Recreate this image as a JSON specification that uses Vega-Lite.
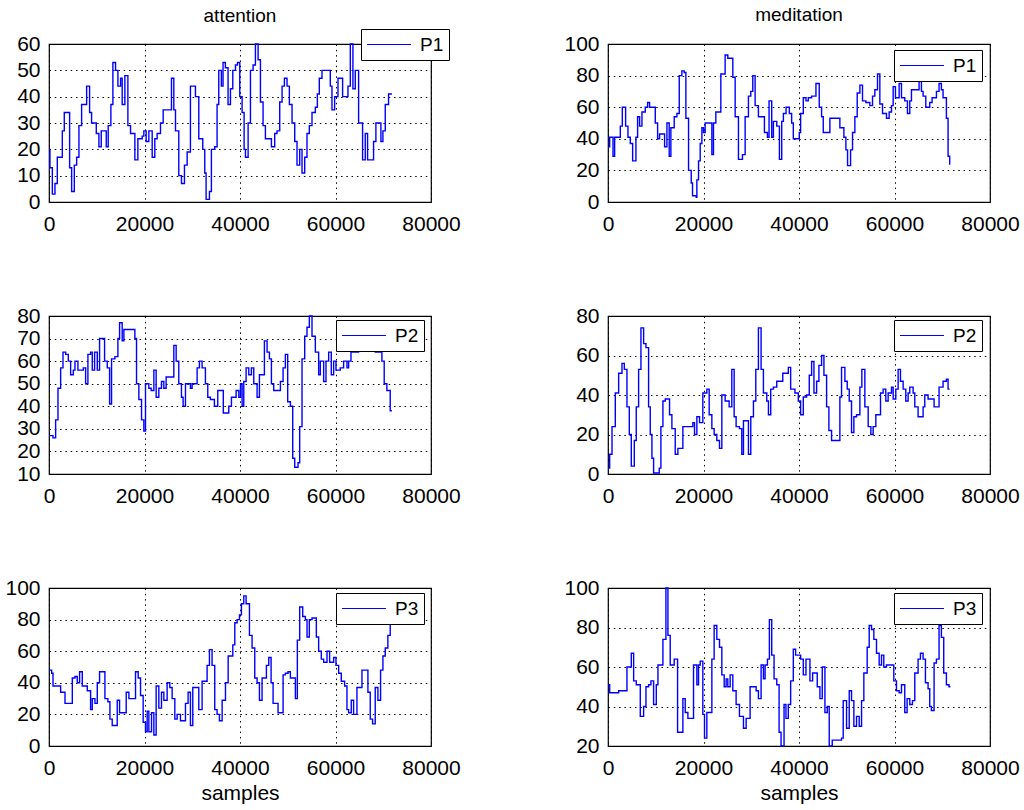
{
"$schema": "https://vega.github.io/schema/vega-lite/v6.json",
"padding": {"left": 4, "top": 5, "right": 5, "bottom": 2},
"background": "white",
"datasets": {
"a1": [{"s":0,"v":20},{"s":200,"v":13},{"s":700,"v":3},{"s":1250,"v":7},{"s":1740,"v":17},{"s":2790,"v":27},{"s":3200,"v":34},{"s":4320,"v":13},{"s":4740,"v":4},{"s":5300,"v":14},{"s":5790,"v":17},{"s":6270,"v":29},{"s":6830,"v":37},{"s":7880,"v":44},{"s":8500,"v":34},{"s":8920,"v":30},{"s":9900,"v":26},{"s":10450,"v":21},{"s":10940,"v":27},{"s":11990,"v":21},{"s":12400,"v":29},{"s":12960,"v":37},{"s":13380,"v":53},{"s":13940,"v":50},{"s":14430,"v":44},{"s":14990,"v":47},{"s":15330,"v":37},{"s":15890,"v":48},{"s":16520,"v":29},{"s":17080,"v":26},{"s":17980,"v":16},{"s":18610,"v":24},{"s":19520,"v":25},{"s":19860,"v":27},{"s":20350,"v":23},{"s":20910,"v":27},{"s":21610,"v":17},{"s":22160,"v":24},{"s":22650,"v":26},{"s":23350,"v":30},{"s":23910,"v":35},{"s":25650,"v":47},{"s":26140,"v":35},{"s":26490,"v":27},{"s":27180,"v":10},{"s":27740,"v":7},{"s":28370,"v":14},{"s":28930,"v":19},{"s":29620,"v":44},{"s":30670,"v":40},{"s":31370,"v":24},{"s":32200,"v":20},{"s":32620,"v":11},{"s":32900,"v":1},{"s":33600,"v":4},{"s":34010,"v":20},{"s":34710,"v":21},{"s":35200,"v":37},{"s":35550,"v":50},{"s":36100,"v":44},{"s":36450,"v":53},{"s":36940,"v":51},{"s":37500,"v":37},{"s":38000,"v":43},{"s":38490,"v":50},{"s":39050,"v":52},{"s":39470,"v":53},{"s":39950,"v":40},{"s":40440,"v":34},{"s":40860,"v":20},{"s":41140,"v":17},{"s":41700,"v":30},{"s":42190,"v":50},{"s":42740,"v":52},{"s":43230,"v":60},{"s":43790,"v":54},{"s":44280,"v":38},{"s":44830,"v":29},{"s":45320,"v":24},{"s":46580,"v":21},{"s":47270,"v":26},{"s":47760,"v":27},{"s":48320,"v":38},{"s":48810,"v":44},{"s":49300,"v":47},{"s":49850,"v":44},{"s":50340,"v":37},{"s":50900,"v":30},{"s":51460,"v":23},{"s":51940,"v":14},{"s":52500,"v":20},{"s":52990,"v":11},{"s":53550,"v":17},{"s":54030,"v":26},{"s":54520,"v":29},{"s":55080,"v":34},{"s":55780,"v":36},{"s":56200,"v":41},{"s":56610,"v":47},{"s":57170,"v":50},{"s":58910,"v":44},{"s":59260,"v":35},{"s":59820,"v":40},{"s":60520,"v":47},{"s":61490,"v":40},{"s":62610,"v":44},{"s":63100,"v":60},{"s":63650,"v":43},{"s":64140,"v":50},{"s":64840,"v":30},{"s":65670,"v":16},{"s":66230,"v":26},{"s":66720,"v":16},{"s":67970,"v":23},{"s":68460,"v":30},{"s":69510,"v":23},{"s":69930,"v":27},{"s":70420,"v":37},{"s":71110,"v":41},{"s":71810,"v":41}],
"m1": [{"s":0,"v":35},{"s":350,"v":41},{"s":1050,"v":29},{"s":1390,"v":41},{"s":2580,"v":48},{"s":3000,"v":60},{"s":3690,"v":48},{"s":4180,"v":41},{"s":4670,"v":37},{"s":5160,"v":26},{"s":5850,"v":41},{"s":6200,"v":54},{"s":6620,"v":48},{"s":7110,"v":57},{"s":7810,"v":60},{"s":8290,"v":63},{"s":8710,"v":60},{"s":9900,"v":50},{"s":10390,"v":40},{"s":10800,"v":43},{"s":11850,"v":35},{"s":12340,"v":50},{"s":12820,"v":29},{"s":13170,"v":47},{"s":13870,"v":54},{"s":14430,"v":56},{"s":14920,"v":80},{"s":15470,"v":83},{"s":15960,"v":82},{"s":16310,"v":53},{"s":16870,"v":20},{"s":17430,"v":12},{"s":17700,"v":4},{"s":18470,"v":3},{"s":18610,"v":14},{"s":18960,"v":26},{"s":19310,"v":37},{"s":19660,"v":47},{"s":20000,"v":44},{"s":20350,"v":50},{"s":21750,"v":30},{"s":22090,"v":50},{"s":22580,"v":57},{"s":23630,"v":81},{"s":24530,"v":93},{"s":25090,"v":91},{"s":26140,"v":79},{"s":26630,"v":54},{"s":27320,"v":27},{"s":28160,"v":30},{"s":28720,"v":54},{"s":29410,"v":67},{"s":29900,"v":70},{"s":30320,"v":80},{"s":30810,"v":61},{"s":31500,"v":54},{"s":32760,"v":44},{"s":33390,"v":41},{"s":33730,"v":64},{"s":34290,"v":41},{"s":34640,"v":51},{"s":35340,"v":48},{"s":35900,"v":27},{"s":36380,"v":51},{"s":36730,"v":56},{"s":37290,"v":60},{"s":37970,"v":56},{"s":38460,"v":50},{"s":38810,"v":40},{"s":40060,"v":44},{"s":40340,"v":56},{"s":40900,"v":66},{"s":41460,"v":64},{"s":41940,"v":66},{"s":42640,"v":67},{"s":43550,"v":75},{"s":44240,"v":60},{"s":44730,"v":54},{"s":45080,"v":44},{"s":46470,"v":53},{"s":48560,"v":47},{"s":49400,"v":41},{"s":49820,"v":33},{"s":50170,"v":23},{"s":50800,"v":33},{"s":51210,"v":44},{"s":51700,"v":54},{"s":52190,"v":69},{"s":52750,"v":74},{"s":53300,"v":64},{"s":54000,"v":63},{"s":54840,"v":61},{"s":55400,"v":67},{"s":55880,"v":71},{"s":56440,"v":81},{"s":56930,"v":62},{"s":57490,"v":56},{"s":58320,"v":53},{"s":58880,"v":57},{"s":59370,"v":61},{"s":59720,"v":73},{"s":60200,"v":66},{"s":60970,"v":75},{"s":61460,"v":66},{"s":62150,"v":64},{"s":62710,"v":56},{"s":63200,"v":64},{"s":63550,"v":71},{"s":65150,"v":78},{"s":65640,"v":70},{"s":65990,"v":67},{"s":66550,"v":60},{"s":67380,"v":63},{"s":67870,"v":66},{"s":68780,"v":70},{"s":69330,"v":75},{"s":69820,"v":71},{"s":70170,"v":66},{"s":70870,"v":53},{"s":71220,"v":29},{"s":71560,"v":24},{"s":71700,"v":24}],
"a2": [{"s":0,"v":27},{"s":840,"v":26},{"s":1390,"v":34},{"s":1880,"v":48},{"s":2440,"v":57},{"s":2930,"v":64},{"s":3490,"v":63},{"s":4040,"v":60},{"s":4530,"v":54},{"s":5090,"v":56},{"s":5440,"v":60},{"s":6060,"v":56},{"s":7180,"v":57},{"s":7670,"v":50},{"s":8150,"v":63},{"s":8710,"v":64},{"s":9060,"v":56},{"s":9550,"v":64},{"s":10110,"v":56},{"s":10590,"v":70},{"s":11640,"v":60},{"s":12200,"v":57},{"s":12690,"v":41},{"s":13100,"v":61},{"s":13800,"v":62},{"s":14430,"v":70},{"s":14780,"v":77},{"s":15330,"v":69},{"s":15680,"v":74},{"s":17980,"v":70},{"s":18330,"v":50},{"s":18820,"v":43},{"s":19380,"v":34},{"s":19860,"v":29},{"s":20210,"v":50},{"s":20910,"v":48},{"s":21400,"v":47},{"s":21960,"v":56},{"s":22440,"v":44},{"s":23000,"v":48},{"s":23560,"v":51},{"s":24050,"v":48},{"s":24530,"v":53},{"s":26140,"v":67},{"s":26630,"v":60},{"s":27180,"v":50},{"s":27740,"v":44},{"s":28090,"v":40},{"s":28580,"v":50},{"s":29620,"v":48},{"s":29970,"v":50},{"s":31020,"v":57},{"s":31500,"v":60},{"s":32060,"v":57},{"s":32760,"v":50},{"s":33250,"v":44},{"s":33800,"v":43},{"s":34640,"v":40},{"s":35340,"v":47},{"s":36500,"v":37},{"s":37650,"v":40},{"s":38210,"v":44},{"s":39190,"v":47},{"s":39750,"v":44},{"s":40100,"v":50},{"s":40440,"v":40},{"s":40790,"v":51},{"s":41280,"v":57},{"s":41840,"v":54},{"s":42390,"v":57},{"s":42880,"v":50},{"s":43580,"v":44},{"s":44070,"v":54},{"s":45110,"v":69},{"s":45670,"v":64},{"s":46160,"v":61},{"s":46580,"v":50},{"s":47060,"v":47},{"s":48460,"v":51},{"s":49020,"v":57},{"s":49500,"v":63},{"s":49990,"v":42},{"s":50550,"v":40},{"s":51040,"v":17},{"s":51460,"v":13},{"s":52150,"v":15},{"s":52500,"v":31},{"s":52990,"v":61},{"s":53550,"v":71},{"s":54030,"v":75},{"s":54520,"v":80},{"s":55080,"v":71},{"s":55780,"v":64},{"s":56470,"v":54},{"s":56820,"v":60},{"s":57520,"v":51},{"s":58010,"v":60},{"s":58570,"v":64},{"s":59120,"v":54},{"s":59610,"v":60},{"s":60100,"v":56},{"s":61000,"v":57},{"s":61700,"v":60},{"s":62400,"v":57},{"s":62750,"v":60},{"s":63240,"v":64},{"s":64840,"v":67},{"s":66580,"v":66},{"s":68320,"v":64},{"s":69720,"v":60},{"s":70200,"v":50},{"s":70760,"v":47},{"s":71460,"v":38},{"s":71810,"v":38}],
"m2": [{"s":0,"v":3},{"s":350,"v":10},{"s":840,"v":24},{"s":1530,"v":41},{"s":2230,"v":51},{"s":2930,"v":56},{"s":3420,"v":53},{"s":3970,"v":34},{"s":4460,"v":20},{"s":4880,"v":4},{"s":5510,"v":17},{"s":5920,"v":34},{"s":6410,"v":53},{"s":6900,"v":74},{"s":7460,"v":66},{"s":7950,"v":64},{"s":8500,"v":34},{"s":8850,"v":20},{"s":9200,"v":8},{"s":9550,"v":0.5},{"s":10730,"v":3},{"s":11080,"v":24},{"s":11500,"v":37},{"s":11990,"v":38},{"s":12890,"v":30},{"s":13380,"v":23},{"s":14080,"v":10},{"s":14640,"v":13},{"s":15680,"v":24},{"s":17770,"v":26},{"s":18120,"v":20},{"s":18610,"v":29},{"s":19170,"v":26},{"s":19860,"v":41},{"s":20700,"v":43},{"s":21190,"v":30},{"s":21750,"v":23},{"s":22230,"v":20},{"s":22790,"v":17},{"s":23350,"v":13},{"s":23840,"v":40},{"s":24530,"v":37},{"s":25370,"v":34},{"s":25930,"v":53},{"s":26420,"v":29},{"s":26830,"v":24},{"s":27530,"v":23},{"s":28020,"v":10},{"s":28370,"v":27},{"s":29410,"v":10},{"s":29900,"v":29},{"s":30460,"v":37},{"s":30950,"v":53},{"s":31500,"v":74},{"s":32060,"v":53},{"s":32550,"v":41},{"s":33250,"v":37},{"s":33600,"v":30},{"s":34080,"v":43},{"s":34640,"v":44},{"s":35340,"v":47},{"s":36600,"v":51},{"s":37760,"v":54},{"s":38250,"v":43},{"s":39150,"v":41},{"s":39850,"v":37},{"s":40340,"v":30},{"s":40900,"v":39},{"s":41600,"v":40},{"s":42150,"v":50},{"s":42640,"v":57},{"s":43130,"v":41},{"s":43690,"v":47},{"s":44170,"v":55},{"s":44730,"v":60},{"s":45220,"v":50},{"s":45780,"v":34},{"s":46260,"v":22},{"s":46820,"v":17},{"s":48560,"v":39},{"s":48910,"v":54},{"s":49610,"v":47},{"s":50100,"v":43},{"s":50520,"v":37},{"s":51000,"v":21},{"s":51490,"v":29},{"s":52050,"v":30},{"s":52750,"v":44},{"s":53160,"v":53},{"s":53790,"v":34},{"s":54490,"v":24},{"s":55050,"v":20},{"s":55530,"v":24},{"s":56090,"v":30},{"s":57070,"v":41},{"s":57620,"v":43},{"s":58180,"v":37},{"s":58670,"v":41},{"s":59370,"v":44},{"s":59720,"v":38},{"s":60270,"v":43},{"s":60760,"v":53},{"s":61250,"v":47},{"s":61810,"v":43},{"s":62360,"v":37},{"s":62850,"v":41},{"s":63200,"v":44},{"s":63900,"v":41},{"s":64250,"v":34},{"s":64940,"v":29},{"s":65990,"v":34},{"s":66340,"v":40},{"s":67030,"v":38},{"s":68290,"v":34},{"s":69330,"v":44},{"s":70170,"v":47},{"s":70870,"v":48},{"s":71220,"v":43},{"s":71560,"v":43}],
"a3": [{"s":0,"v":48},{"s":560,"v":46},{"s":840,"v":38},{"s":2440,"v":34},{"s":3350,"v":27},{"s":4880,"v":43},{"s":5440,"v":44},{"s":5920,"v":40},{"s":6410,"v":47},{"s":6970,"v":38},{"s":8020,"v":35},{"s":8710,"v":23},{"s":9060,"v":30},{"s":9620,"v":27},{"s":10110,"v":40},{"s":10590,"v":47},{"s":11710,"v":30},{"s":12340,"v":28},{"s":12760,"v":17},{"s":13240,"v":13},{"s":14290,"v":29},{"s":14780,"v":21},{"s":16170,"v":34},{"s":16730,"v":30},{"s":18120,"v":47},{"s":18680,"v":43},{"s":19170,"v":32},{"s":19720,"v":15},{"s":20210,"v":9},{"s":20560,"v":22},{"s":20910,"v":9},{"s":21470,"v":21},{"s":21960,"v":7},{"s":22440,"v":38},{"s":23000,"v":24},{"s":23560,"v":34},{"s":24050,"v":29},{"s":24740,"v":40},{"s":25300,"v":37},{"s":25790,"v":30},{"s":26350,"v":17},{"s":26840,"v":20},{"s":27530,"v":16},{"s":28580,"v":27},{"s":29130,"v":34},{"s":29620,"v":13},{"s":30110,"v":37},{"s":31370,"v":23},{"s":32060,"v":41},{"s":33110,"v":51},{"s":33600,"v":61},{"s":34150,"v":51},{"s":34710,"v":23},{"s":35200,"v":20},{"s":35690,"v":16},{"s":36260,"v":29},{"s":36960,"v":40},{"s":37520,"v":57},{"s":38490,"v":64},{"s":38910,"v":78},{"s":39400,"v":80},{"s":39890,"v":83},{"s":40300,"v":90},{"s":40790,"v":95},{"s":41280,"v":90},{"s":41980,"v":70},{"s":42530,"v":62},{"s":43090,"v":43},{"s":43580,"v":40},{"s":44070,"v":29},{"s":44620,"v":43},{"s":45530,"v":51},{"s":46020,"v":56},{"s":46510,"v":40},{"s":46930,"v":27},{"s":47970,"v":21},{"s":49020,"v":45},{"s":49500,"v":46},{"s":50060,"v":47},{"s":50550,"v":43},{"s":51600,"v":30},{"s":52010,"v":67},{"s":52500,"v":88},{"s":53130,"v":82},{"s":53690,"v":80},{"s":54040,"v":69},{"s":54520,"v":80},{"s":55080,"v":81},{"s":55990,"v":69},{"s":56470,"v":60},{"s":57030,"v":55},{"s":57520,"v":53},{"s":58220,"v":60},{"s":58770,"v":53},{"s":59610,"v":56},{"s":60100,"v":51},{"s":60660,"v":46},{"s":61210,"v":41},{"s":61910,"v":38},{"s":62400,"v":23},{"s":62750,"v":21},{"s":63300,"v":29},{"s":63790,"v":20},{"s":64490,"v":37},{"s":65540,"v":48},{"s":66790,"v":34},{"s":67280,"v":17},{"s":67770,"v":14},{"s":68320,"v":37},{"s":68880,"v":29},{"s":69440,"v":48},{"s":69930,"v":57},{"s":70420,"v":62},{"s":70970,"v":70},{"s":71460,"v":77},{"s":71810,"v":77}],
"m3": [{"s":0,"v":51},{"s":350,"v":47},{"s":2230,"v":48},{"s":3970,"v":60},{"s":4880,"v":67},{"s":5370,"v":53},{"s":5920,"v":51},{"s":6760,"v":35},{"s":7460,"v":40},{"s":7950,"v":50},{"s":8500,"v":51},{"s":8990,"v":53},{"s":9550,"v":41},{"s":10110,"v":51},{"s":10460,"v":61},{"s":11500,"v":74},{"s":12130,"v":100},{"s":12550,"v":76},{"s":13030,"v":61},{"s":13870,"v":64},{"s":14570,"v":27},{"s":15680,"v":44},{"s":16170,"v":37},{"s":16730,"v":34},{"s":17910,"v":61},{"s":18610,"v":51},{"s":18960,"v":61},{"s":19310,"v":63},{"s":19860,"v":36},{"s":20210,"v":24},{"s":20700,"v":37},{"s":21750,"v":64},{"s":22230,"v":81},{"s":22790,"v":74},{"s":23350,"v":70},{"s":23840,"v":56},{"s":24330,"v":50},{"s":24740,"v":54},{"s":25090,"v":50},{"s":25580,"v":56},{"s":26140,"v":48},{"s":26830,"v":41},{"s":27530,"v":35},{"s":28370,"v":29},{"s":28930,"v":34},{"s":29760,"v":50},{"s":31020,"v":48},{"s":31500,"v":44},{"s":32060,"v":61},{"s":32550,"v":54},{"s":32900,"v":61},{"s":33390,"v":64},{"s":33800,"v":84},{"s":34290,"v":66},{"s":34780,"v":54},{"s":35340,"v":51},{"s":35830,"v":27},{"s":36240,"v":20},{"s":36870,"v":41},{"s":37270,"v":34},{"s":37760,"v":41},{"s":38250,"v":53},{"s":38810,"v":69},{"s":39290,"v":66},{"s":40340,"v":64},{"s":40900,"v":56},{"s":41460,"v":64},{"s":42290,"v":53},{"s":42850,"v":57},{"s":43820,"v":50},{"s":44380,"v":44},{"s":44870,"v":60},{"s":45430,"v":37},{"s":45920,"v":40},{"s":46330,"v":20},{"s":46960,"v":23},{"s":48910,"v":24},{"s":49260,"v":43},{"s":49960,"v":29},{"s":50520,"v":48},{"s":51000,"v":43},{"s":51490,"v":30},{"s":52050,"v":35},{"s":52610,"v":30},{"s":53100,"v":43},{"s":53580,"v":57},{"s":54280,"v":70},{"s":54700,"v":81},{"s":55190,"v":79},{"s":55670,"v":74},{"s":56230,"v":67},{"s":56790,"v":61},{"s":57280,"v":66},{"s":57760,"v":60},{"s":58320,"v":61},{"s":59850,"v":53},{"s":60410,"v":48},{"s":60970,"v":47},{"s":61460,"v":51},{"s":62150,"v":37},{"s":62640,"v":44},{"s":63200,"v":41},{"s":63760,"v":43},{"s":64250,"v":57},{"s":64940,"v":64},{"s":65430,"v":67},{"s":65990,"v":64},{"s":66480,"v":52},{"s":67030,"v":49},{"s":67380,"v":40},{"s":67730,"v":38},{"s":68290,"v":62},{"s":68780,"v":64},{"s":69330,"v":81},{"s":69820,"v":75},{"s":70310,"v":57},{"s":70870,"v":51},{"s":71420,"v":50},{"s":71700,"v":50}]
},
"columns": 2,
"spacing": {"row": 114, "column": 177},
"bounds": "flush",
"resolve": {"scale": {"color": "independent", "x": "independent", "y": "independent"}, "legend": {"color": "independent"}},
"concat": [
{"width": 382, "height": 158, "title": {"text": "attention", "offset": 3}, "data": {"name": "a1"},
 "mark": {"type": "line", "interpolate": "step-after", "strokeWidth": 1.4},
 "encoding": {
  "x": {"field": "s", "type": "quantitative", "scale": {"domain": [0, 80000], "nice": false}, "axis": {"values": [0, 20000, 40000, 60000, 80000], "format": "d", "title": null}},
  "y": {"field": "v", "type": "quantitative", "scale": {"domain": [0, 60], "nice": false, "zero": false}, "axis": {"values": [0, 10, 20, 30, 40, 50, 60], "title": null}},
  "color": {"datum": "P1", "type": "nominal", "scale": {"range": ["#0000ff"]}, "legend": {"orient": "none", "legendX": 312, "legendY": -15, "title": null}}}},
{"width": 382, "height": 158, "title": {"text": "meditation", "offset": 8}, "data": {"name": "m1"},
 "mark": {"type": "line", "interpolate": "step-after", "strokeWidth": 1.4},
 "encoding": {
  "x": {"field": "s", "type": "quantitative", "scale": {"domain": [0, 80000], "nice": false}, "axis": {"values": [0, 20000, 40000, 60000, 80000], "format": "d", "title": null}},
  "y": {"field": "v", "type": "quantitative", "scale": {"domain": [0, 100], "nice": false, "zero": false}, "axis": {"values": [0, 20, 40, 60, 80, 100], "title": null}},
  "color": {"datum": "P1", "type": "nominal", "scale": {"range": ["#0000ff"]}, "legend": {"orient": "none", "legendX": 286, "legendY": 6, "title": null}}}},
{"width": 382, "height": 158, "data": {"name": "a2"},
 "mark": {"type": "line", "interpolate": "step-after", "strokeWidth": 1.4},
 "encoding": {
  "x": {"field": "s", "type": "quantitative", "scale": {"domain": [0, 80000], "nice": false}, "axis": {"values": [0, 20000, 40000, 60000, 80000], "format": "d", "title": null}},
  "y": {"field": "v", "type": "quantitative", "scale": {"domain": [10, 80], "nice": false, "zero": false}, "axis": {"values": [10, 20, 30, 40, 50, 60, 70, 80], "title": null}},
  "color": {"datum": "P2", "type": "nominal", "scale": {"range": ["#0000ff"]}, "legend": {"orient": "none", "legendX": 287, "legendY": 4, "title": null}}}},
{"width": 382, "height": 158, "data": {"name": "m2"},
 "mark": {"type": "line", "interpolate": "step-after", "strokeWidth": 1.4},
 "encoding": {
  "x": {"field": "s", "type": "quantitative", "scale": {"domain": [0, 80000], "nice": false}, "axis": {"values": [0, 20000, 40000, 60000, 80000], "format": "d", "title": null}},
  "y": {"field": "v", "type": "quantitative", "scale": {"domain": [0, 80], "nice": false, "zero": false}, "axis": {"values": [0, 20, 40, 60, 80], "title": null}},
  "color": {"datum": "P2", "type": "nominal", "scale": {"range": ["#0000ff"]}, "legend": {"orient": "none", "legendX": 286, "legendY": 4, "title": null}}}},
{"width": 382, "height": 158, "data": {"name": "a3"},
 "mark": {"type": "line", "interpolate": "step-after", "strokeWidth": 1.4},
 "encoding": {
  "x": {"field": "s", "type": "quantitative", "scale": {"domain": [0, 80000], "nice": false}, "axis": {"values": [0, 20000, 40000, 60000, 80000], "format": "d", "title": "samples"}},
  "y": {"field": "v", "type": "quantitative", "scale": {"domain": [0, 100], "nice": false, "zero": false}, "axis": {"values": [0, 20, 40, 60, 80, 100], "title": null}},
  "color": {"datum": "P3", "type": "nominal", "scale": {"range": ["#0000ff"]}, "legend": {"orient": "none", "legendX": 287, "legendY": 5, "title": null}}}},
{"width": 382, "height": 158, "data": {"name": "m3"},
 "mark": {"type": "line", "interpolate": "step-after", "strokeWidth": 1.4},
 "encoding": {
  "x": {"field": "s", "type": "quantitative", "scale": {"domain": [0, 80000], "nice": false}, "axis": {"values": [0, 20000, 40000, 60000, 80000], "format": "d", "title": "samples"}},
  "y": {"field": "v", "type": "quantitative", "scale": {"domain": [20, 100], "nice": false, "zero": false}, "axis": {"values": [20, 40, 60, 80, 100], "title": null}},
  "color": {"datum": "P3", "type": "nominal", "scale": {"range": ["#0000ff"]}, "legend": {"orient": "none", "legendX": 286, "legendY": 5, "title": null}}}}
],
"config": {
 "font": "Liberation Sans",
 "view": {"stroke": "#000000", "strokeWidth": 1.2},
 "axis": {"labelFont": "Liberation Sans", "labelFontSize": 21, "labelColor": "#000000", "grid": true, "gridColor": "#000000", "gridDash": [1.5, 3.8], "gridOpacity": 1, "gridWidth": 1, "ticks": false, "domain": false, "labelPadding": 9, "labelFlush": false, "labelOverlap": false, "titleFont": "Liberation Sans", "titleFontSize": 21, "titleFontWeight": "normal", "titleColor": "#000000", "titlePadding": 4},
 "axisX": {"labelPadding": 11},
 "title": {"font": "Liberation Sans", "fontSize": 19, "fontWeight": "normal", "color": "#000000", "anchor": "middle"},
 "legend": {"labelFont": "Liberation Sans", "labelFontSize": 19, "labelColor": "#000000", "strokeColor": "#000000", "fillColor": "#ffffff", "padding": 5, "symbolSize": 361, "symbolType": "M-1,0H3.63", "symbolStrokeWidth": 1.2, "labelOffset": 33, "cornerRadius": 0}
}
}
